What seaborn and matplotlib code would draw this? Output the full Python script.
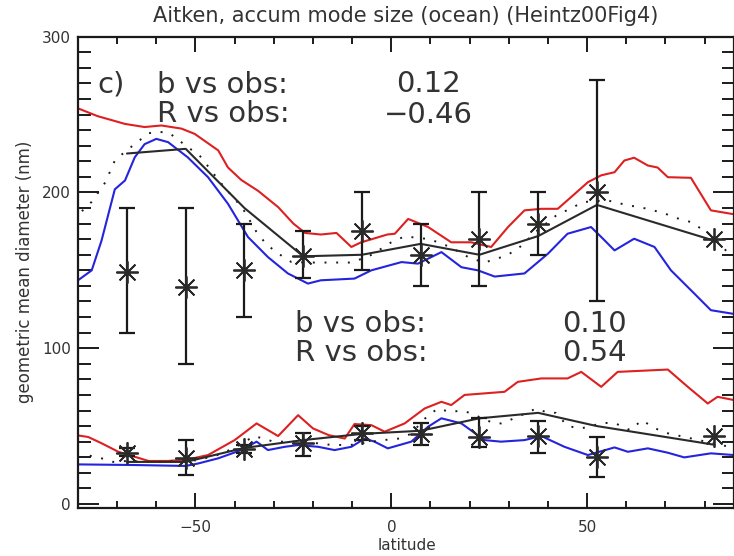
import numpy as np
import pandas as pd
import matplotlib
matplotlib.use("Agg")
import matplotlib.pyplot as plt
from matplotlib.ticker import MultipleLocator
import seaborn as sns

# ---------------- data ----------------
title = "Aitken, accum mode size (ocean) (Heintz00Fig4)"
xlabel = "latitude"
ylabel = "geometric mean diameter (nm)"

# accumulation mode (upper group)
acc_red_lat = [-80, -75, -68, -63, -58.7, -53.6, -50.2, -47.6, -44.2, -41.7, -38.3, -34, -28.9, -25, -22, -18,
               -14, -10.2, -7.7, -5, -1, 0.9, 4.3, 9.4, 15.3, 20.4, 25.5, 29.8, 34, 38.3, 42.5, 46.8, 50.2,
               53.6, 57, 59.5, 62, 65.5, 68, 70.6, 76.5, 81.6, 87.5]
acc_red_val = [254, 249, 244, 242, 243, 241, 237.6, 233, 227, 216, 208, 201, 190.6, 180, 174, 173,
               174, 165, 168, 170, 173, 173.5, 183, 177.8, 168, 168, 165, 177.8, 188.5, 189.5, 189.5, 199, 206.6,
               211, 213, 220.5, 222.3, 217.3, 216, 209.8, 209.4, 188.5, 186]

acc_blue_lat = [-80, -76.5, -74, -70.6, -68, -65.5, -63, -60, -57, -52, -46.8, -41.7, -36.6, -31.5, -26.4,
                -21.3, -18, -9.4, -5.1, 2.6, 6.8, 12.8, 17.9, 22.1, 26.4, 34, 40, 45, 51, 53.6, 57, 62, 67.2,
                71.4, 77.4, 81.6, 87.5]
acc_blue_val = [143.6, 150, 169, 202, 207.7, 222.6, 231, 234.4, 232.3, 222.6, 209.8, 192.7, 171.4, 158.5, 148,
                141.5, 143.6, 144.7, 150, 155.3, 154.3, 161.7, 152, 150, 146, 148, 160.7, 173.5, 177.8, 171.4,
                162.8, 170.3, 165, 150, 135, 124.4, 122]

acc_dot_lat = [-79, -76.5, -73, -70.6, -67.6, -65, -62, -59.4, -56.6, -54, -48.5, -46, -43, -38, -34.4, -31.9,
               -29, -25.5, -20, -15, -10, -5, 0, 3.4, 9.8, 15, 20, 23.8, 28.8, 32, 37, 42, 49, 55, 60, 65.5,
               70, 73.5, 76.5, 82, 87]
acc_dot_val = [188, 194, 206.6, 220.5, 227, 232, 238, 239, 238, 233, 222.6, 214, 204.5, 190, 174.5, 166.7,
               161, 155.3, 155, 155, 155, 160, 168, 171.8, 170, 165, 158, 155, 159, 163, 175, 185, 193.8, 195,
               192, 189.5, 186.3, 183, 181, 172, 158.5]

obs_lat = [-67.5, -52.5, -37.5, -22.5, -7.5, 7.5, 22.5, 37.5, 52.5, 82.5]

acc_model_val = [225, 228, 190, 159, 160, 167, 160, 172, 192, 169]
acc_obs_val = [149, 139, 150, 159, 175, 160, 170, 180, 200, 170]
acc_obs_lo = [110, 90, 120, 145, 150, 140, 140, 160, 130, np.nan]
acc_obs_hi = [190, 190, 180, 175, 200, 180, 200, 200, 272, np.nan]

# Aitken mode (lower group)
ait_red_lat = [-80, -77.4, -74, -69.7, -65.5, -62, -57, -51.9, -46.8, -40, -34.4, -28.9, -23.8, -20, -16,
               -11.9, -9.4, -5.1, -1.7, 3.4, 8.5, 12.8, 15.3, 18.7, 28.9, 32.3, 38.3, 45, 48.5, 53.6, 57.8,
               63.8, 70.6, 75.7, 80.8, 83.3, 87.5]
ait_red_val = [44, 43, 39, 33.5, 30.3, 27.6, 27.6, 28.6, 31.4, 41, 51.7, 43.6, 57, 48.5, 44.2,
               42, 51.3, 50.6, 46.4, 51.7, 61.3, 65.6, 63.5, 70, 72, 78.4, 80.6, 80.6, 84.8, 75.2, 84.8,
               85.5, 86.3, 75.2, 64.5, 68.8, 66.7]

ait_blue_lat = [-80, -65.5, -52.5, -49.3, -44.2, -38.3, -34.4, -31.5, -27.2, -23.8, -18.7, -14.5, -10.2, -6.8,
                -4.3, -0.9, 5.1, 9.4, 12.8, 17.9, 23.8, 28, 34, 38.3, 44.2, 50.2, 57, 60.4, 65.5, 70.6, 74.8,
                81.6, 87.5]
ait_blue_val = [25.4, 25, 24.4, 26, 29.3, 34.6, 40, 34.6, 36.7, 37.8, 36.7, 34.6, 36.7, 42,
                40, 35.7, 40, 49.6, 55, 51.7, 41, 40, 41, 43.6, 36.7, 31.4, 36.3, 33.5, 35.7, 32.9, 29.9,
                32.5, 31.4]

ait_dot_lat = [-77, -74, -71, -68, -60, -55, -50, -45, -40, -35, -30, -25, -20, -15, -10, -5, -2, 2, 5, 9.4,
               12, 15, 17.9, 20, 26, 28, 32, 37, 40, 42, 45, 48.5, 54, 57, 61, 64, 67, 70, 87]
ait_dot_val = [31, 29.3, 27, 27.5, 27, 27.5, 28, 30.8, 36, 43.6, 40, 40, 39.3, 37.8, 38, 40, 41, 42, 45, 57,
               61.3, 59, 60, 58.5, 52, 51.7, 55.6, 61.3, 58.5, 58.5, 50, 48.5, 52, 52, 47.4, 53.8, 49, 45.7, 36.3]

ait_model_val = [27, 27, 36, 41, 45, 47, 55, 58.5, 50, 38]
ait_obs_val = [33, 29.5, 35, 39, 45.5, 45, 43, 43.5, 30, 43.5]
ait_obs_lo = [31, 18.5, 33, 31, 41, 38, 36.5, 33, 17, np.nan]
ait_obs_hi = [36, 41, 38, 45.5, 50, 52, 55, 53, 43, np.nan]

stat_upper = [("c)", None), ("b vs obs:", "0.12"), ("R vs obs:", "\u22120.46")]
stat_lower = [("b vs obs:", "0.10"), ("R vs obs:", "0.54")]

# ---------------- style ----------------
sns.set_style("ticks")
plt.rcParams["font.family"] = ["DejaVu Sans"]
TXT = "#333333"
RED = "#dd2020"
BLUE = "#2424dd"
BLK = "#1a1a1a"

fig = plt.figure(figsize=(7.34, 5.56), dpi=100)
ax = fig.add_axes([78 / 734, 1 - 507.7 / 556, 656 / 734, 471 / 556])

for lat, val, col in [(acc_red_lat, acc_red_val, RED), (acc_blue_lat, acc_blue_val, BLUE),
                      (ait_red_lat, ait_red_val, RED), (ait_blue_lat, ait_blue_val, BLUE)]:
    sns.lineplot(x=lat, y=val, color=col, lw=1.5, ax=ax)

for lat, val in [(acc_dot_lat, acc_dot_val), (ait_dot_lat, ait_dot_val)]:
    sns.lineplot(x=lat, y=val, color=BLK, lw=1.4, linestyle=(0, (1, 5)), ax=ax)

for val in [acc_model_val, ait_model_val]:
    sns.lineplot(x=obs_lat, y=val, color="#2a2a2a", lw=1.5, ax=ax)

for val, lo, hi in [(acc_obs_val, acc_obs_lo, acc_obs_hi), (ait_obs_val, ait_obs_lo, ait_obs_hi)]:
    v = np.array(val, float)
    yerr = np.vstack([v - np.array(lo, float), np.array(hi, float) - v])
    ax.errorbar(obs_lat, v, yerr=yerr, fmt="none", ecolor=BLK, elinewidth=1.6,
                capsize=5.5, capthick=1.6, zorder=4)
    ax.plot(obs_lat, v, linestyle="none", marker=(8, 2, 0), markersize=16,
            markeredgewidth=1.3, color="#2a2a2a", zorder=5)

ax.set_xlim(-80, 87.5)
ax.set_ylim(-2.4, 300)
ax.set_xticks([-50, 0, 50])
ax.set_yticks([0, 100, 200, 300])
ax.xaxis.set_minor_locator(MultipleLocator(10))
ax.yaxis.set_minor_locator(MultipleLocator(10))
ax.tick_params(which="both", direction="in", top=True, right=True, colors=BLK,
               labelcolor=TXT, labelsize=11, width=1.4)
ax.tick_params(axis="x", which="major", length=11, pad=9)
ax.tick_params(axis="x", which="minor", length=5)
ax.tick_params(axis="y", which="major", length=15, pad=5)
ax.tick_params(axis="y", which="minor", length=9)
for s in ax.spines.values():
    s.set_linewidth(1.6)
    s.set_color(BLK)
ax.set_xlabel("")
ax.set_ylabel("")

fig.text(406 / 734, 1 - 16 / 556, title, ha="center", va="center", fontsize=15, color=TXT)
fig.text(407 / 734, 1 - 546 / 556, xlabel, ha="center", va="center", fontsize=11, color=TXT)
fig.text(25 / 734, 1 - 272 / 556, ylabel, ha="center", va="center", rotation=90, fontsize=12, color=TXT)

def axf(px, py):
    return ((px - 78) / 656, (507.7 - py) / 471)

# upper statistics block
ax.text(*axf(97, 93), stat_upper[0][0], transform=ax.transAxes, fontsize=21, color=TXT, va="baseline")
ax.text(*axf(157, 93), stat_upper[1][0], transform=ax.transAxes, fontsize=21, color=TXT, va="baseline")
ax.text(*axf(396, 92), stat_upper[1][1], transform=ax.transAxes, fontsize=21, color=TXT, va="baseline")
ax.text(*axf(157, 122), stat_upper[2][0], transform=ax.transAxes, fontsize=21, color=TXT, va="baseline")
ax.text(*axf(384, 123), stat_upper[2][1], transform=ax.transAxes, fontsize=21, color=TXT, va="baseline")
# lower statistics block
ax.text(*axf(295, 332), stat_lower[0][0], transform=ax.transAxes, fontsize=21, color=TXT, va="baseline")
ax.text(*axf(562, 332), stat_lower[0][1], transform=ax.transAxes, fontsize=21, color=TXT, va="baseline")
ax.text(*axf(295, 361), stat_lower[1][0], transform=ax.transAxes, fontsize=21, color=TXT, va="baseline")
ax.text(*axf(562, 361), stat_lower[1][1], transform=ax.transAxes, fontsize=21, color=TXT, va="baseline")

fig.savefig("out.png", dpi=100)
